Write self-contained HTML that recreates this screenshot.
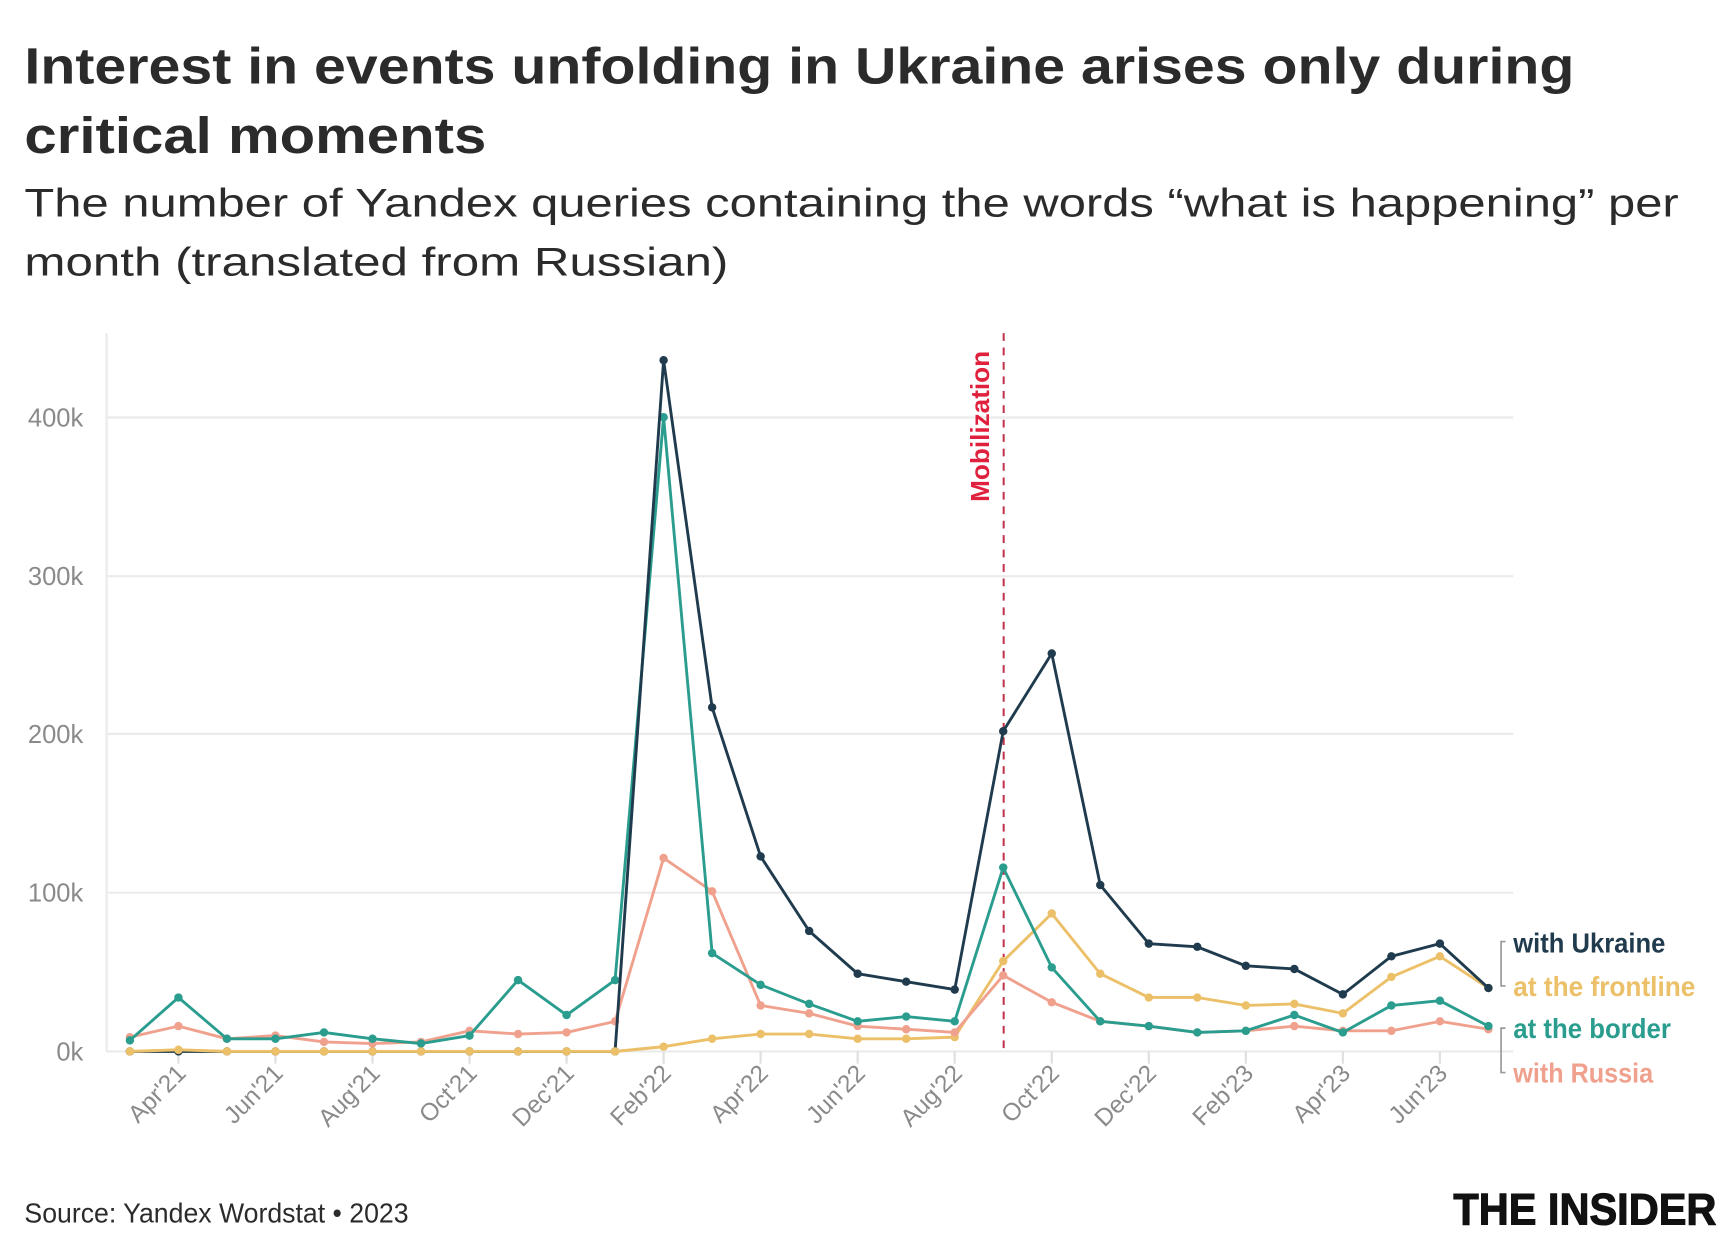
<!DOCTYPE html>
<html><head><meta charset="utf-8"><style>
html,body{margin:0;padding:0;background:#fff;}
svg{display:block;}
</style></head><body>
<svg id="s" width="1732" height="1251" viewBox="0 0 1560 1126.7" xmlns="http://www.w3.org/2000/svg" font-family="'Liberation Sans', sans-serif">
<rect width="1560" height="1127" fill="#fff"/>
<text x="22" y="75" font-size="46" font-weight="bold" fill="#2b2b2b" textLength="1396" lengthAdjust="spacingAndGlyphs">Interest in events unfolding in Ukraine arises only during</text>
<text x="22" y="138" font-size="46" font-weight="bold" fill="#2b2b2b" textLength="416" lengthAdjust="spacingAndGlyphs">critical moments</text>
<text x="22" y="195" font-size="36" fill="#2b2b2b" textLength="1490" lengthAdjust="spacingAndGlyphs">The number of Yandex queries containing the words “what is happening” per</text>
<text x="22" y="248" font-size="36" fill="#2b2b2b" textLength="634" lengthAdjust="spacingAndGlyphs">month (translated from Russian)</text>
<g id="grid" stroke="#ebebeb" stroke-width="2">
<line x1="96" y1="300" x2="96" y2="947"/>
<line x1="96" y1="947" x2="1363" y2="947"/>
<line x1="96" y1="804" x2="1363" y2="804"/>
<line x1="96" y1="661" x2="1363" y2="661"/>
<line x1="96" y1="519" x2="1363" y2="519"/>
<line x1="96" y1="376" x2="1363" y2="376"/>
</g>
<g font-family="'Liberation Sans Narrow','Liberation Sans',sans-serif" font-size="23" fill="#8a8a8a" text-anchor="end">
<text x="75" y="955">0k</text><text x="75" y="812">100k</text><text x="75" y="669">200k</text><text x="75" y="527">300k</text><text x="75" y="384">400k</text>
</g>
<g id="xl" font-family="'Liberation Sans Narrow','Liberation Sans',sans-serif" font-size="22" fill="#8a8a8a" text-anchor="end"></g>
<line x1="904" y1="300" x2="904" y2="947" stroke="#c0304a" stroke-width="1.8" stroke-dasharray="7,6"/>
<text transform="translate(891,452) rotate(-90)" font-size="23" font-weight="bold" fill="#e0213d" textLength="136" lengthAdjust="spacingAndGlyphs">Mobilization</text>
<g id="lines"></g>
<g stroke="#999" stroke-width="1.5" fill="none">
<path d="M1356,848 h-4 v40 h4"/><path d="M1356,926 h-4 v40 h4"/>
</g>
<g font-family="'Liberation Sans Narrow','Liberation Sans',sans-serif" font-size="25" font-weight="bold">
<text x="1363" y="858" fill="#1f3b4d" textLength="137" lengthAdjust="spacingAndGlyphs">with Ukraine</text>
<text x="1363" y="897" fill="#ecc068" textLength="164" lengthAdjust="spacingAndGlyphs">at the frontline</text>
<text x="1363" y="935" fill="#2a9d8f" textLength="142" lengthAdjust="spacingAndGlyphs">at the border</text>
<text x="1363" y="975" fill="#f0a18e" textLength="126" lengthAdjust="spacingAndGlyphs">with Russia</text>
</g>
<text x="22" y="1101" font-family="'Liberation Sans Narrow','Liberation Sans',sans-serif" font-size="25" fill="#2b2b2b" textLength="346" lengthAdjust="spacingAndGlyphs">Source: Yandex Wordstat • 2023</text>
<text x="1309" y="1103" font-size="40" font-weight="900" fill="#111" textLength="237" lengthAdjust="spacingAndGlyphs" stroke="#111" stroke-width="1">THE INSIDER</text>
</svg>
<script>
var X=i=>117+i*43.7, Y=v=>947-v*1.428;
var data=[
["#ecc068",[0,1,0,0,0,0,0,0,0,0,0,3,8,11,11,8,8,9,57,87,49,34,34,29,30,24,47,60,40]],
["#f0a18e",[9,16,8,10,6,5,6,13,11,12,19,122,101,29,24,16,14,12,48,31,19,16,12,13,16,13,13,19,14]],
["#2a9d8f",[7,34,8,8,12,8,5,10,45,23,45,400,62,42,30,19,22,19,116,53,19,16,12,13,23,12,29,32,16]],
["#1f3b4d",[0,0,0,0,0,0,0,0,0,0,0,436,217,123,76,49,44,39,202,251,105,68,66,54,52,36,60,68,40]]
];
var ns="http://www.w3.org/2000/svg",g=document.getElementById("lines"),h="";
data.forEach(function(d){var p=d[1].map((v,i)=>X(i).toFixed(1)+","+Y(v).toFixed(1)).join(" ");
h+='<polyline points="'+p+'" fill="none" stroke="'+d[0]+'" stroke-width="2.6" stroke-linejoin="round"/>';
d[1].forEach((v,i)=>{h+='<circle cx="'+X(i)+'" cy="'+Y(v)+'" r="3.8" fill="'+d[0]+'"/>';});});
// draw yellow flat part on top for early months
h+='<polyline points="'+data[0][1].slice(0,12).map((v,i)=>X(i)+","+Y(v)).join(" ")+'" fill="none" stroke="#ecc068" stroke-width="2.6"/>';
data[0][1].slice(0,11).forEach((v,i)=>{h+='<circle cx="'+X(i)+'" cy="'+Y(v)+'" r="3.8" fill="#ecc068"/>';});
g.innerHTML=h;
var labs=["Apr'21","Jun'21","Aug'21","Oct'21","Dec'21","Feb'22","Apr'22","Jun'22","Aug'22","Oct'22","Dec'22","Feb'23","Apr'23","Jun'23"];
var xl=document.getElementById("xl"),s="";
labs.forEach((l,k)=>{var x=X(1+2*k);s+='<line x1="'+x+'" y1="947" x2="'+x+'" y2="958" stroke="#e0e0e0" stroke-width="2"/>';
s+='<text transform="translate('+(x+8)+',968) rotate(-45)">'+l+'</text>';});
xl.innerHTML=s;
</script>
</body></html>
